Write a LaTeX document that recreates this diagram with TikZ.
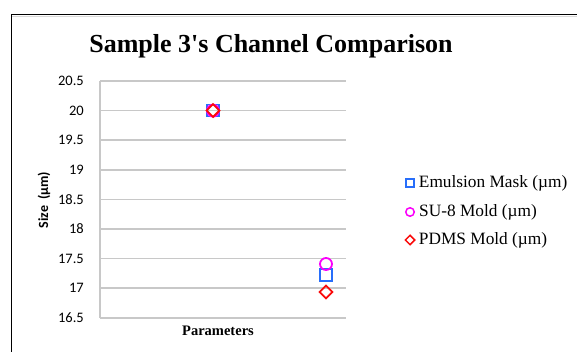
\documentclass[tikz,border=0pt]{standalone}
\usepackage{fontspec}
\setmainfont{Liberation Serif}[Ligatures=TeXOff]
\newfontfamily\calibri{Carlito}
\usetikzlibrary{shapes.geometric,positioning}
\definecolor{maskblue}{RGB}{40,110,250}
\definecolor{sumagenta}{RGB}{250,0,250}
\definecolor{pdmsred}{RGB}{250,10,10}
\definecolor{gridgray}{RGB}{200,200,200}
\tikzset{
    %Define style for the grid lines
    gridline/.style={
      draw=gridgray,
      line width=1.6pt},
    %Define style for tick labels
    ticklabel/.style={
      anchor=east,
      inner sep=0pt,
      font=\calibri\fontsize{14.5}{15}\selectfont},
    %Define styles for the markers
    maskmark/.style={
      rectangle,
      draw=maskblue,
      line width=1.8pt,
      minimum size=12pt,
      inner sep=0pt},
    sumark/.style={
      circle,
      draw=sumagenta,
      line width=1.8pt,
      minimum size=12pt,
      inner sep=0pt},
    pdmsmark/.style={
      diamond,
      draw=pdmsred,
      line width=1.8pt,
      minimum size=13.5pt,
      inner sep=0pt},
    % Define legend style
    legendtext/.style={
      anchor=west,
      inner sep=0pt,
      font=\fontsize{17.3}{18}\selectfont}
}

\begin{document}
\begin{tikzpicture}[x=1pt, y=-1pt]
    \useasboundingbox (0,0) rectangle (577,352);
    % chart frame
    \draw[black!15, line width=1pt] (12,16.5) -- (577,16.5);
    \draw[line width=1.6pt] (11.5,352) -- (11.5,14.5) -- (577,14.5);
    \node[font=\bfseries\fontsize{26}{27}\selectfont] (title) at (271,46)
      {Sample 3's Channel Comparison};
    % grid lines and values
    \foreach \v/\lbl [count=\i from 0] in {20.5/20.5,20/20,19.5/19.5,19/19,
        18.5/18.5,18/18,17.5/17.5,17/17,16.5/16.5} {
      \draw[gridline] (100,81+29.6*\i) -- (346,81+29.6*\i);
      \node[ticklabel] (tick\i) at (84,81+29.6*\i) {\lbl};
    }
    \draw[gridline] (100,81) -- (100,318);
    \node[rotate=90, font=\calibri\bfseries\fontsize{14}{15}\selectfont] (ylabel)
      at (44,200) {Size~~(µm)};
    \node[font=\bfseries\fontsize{14.5}{15}\selectfont] (xlabel) at (218,331)
      {Parameters};
    % data points
    \node[maskmark] (mask1) at (213,110.6) {};
    \node[sumark] (su1) at (213,110.6) {};
    \node[pdmsmark] (pdms1) at (213,110.6) {};
    \node[maskmark] (mask2) at (326,275) {};
    \node[sumark] (su2) at (326,264) {};
    \node[pdmsmark] (pdms2) at (326,292) {};
    % legend
    \node[maskmark, minimum size=8pt, line width=1.5pt] (legmask) at (410,183) {};
    \node[legendtext, right=4pt of legmask] (legmasktext) {Emulsion Mask (µm)};
    \node[sumark, minimum size=8.5pt, line width=1.5pt] (legsu) at (410,212) {};
    \node[legendtext, right=4pt of legsu] (legsutext) {SU-8 Mold (µm)};
    \node[pdmsmark, minimum size=10pt, line width=1.5pt] (legpdms) at (410,240) {};
    \node[legendtext, right=3pt of legpdms] (legpdmstext) {PDMS Mold (µm)};
\end{tikzpicture}
\end{document}
